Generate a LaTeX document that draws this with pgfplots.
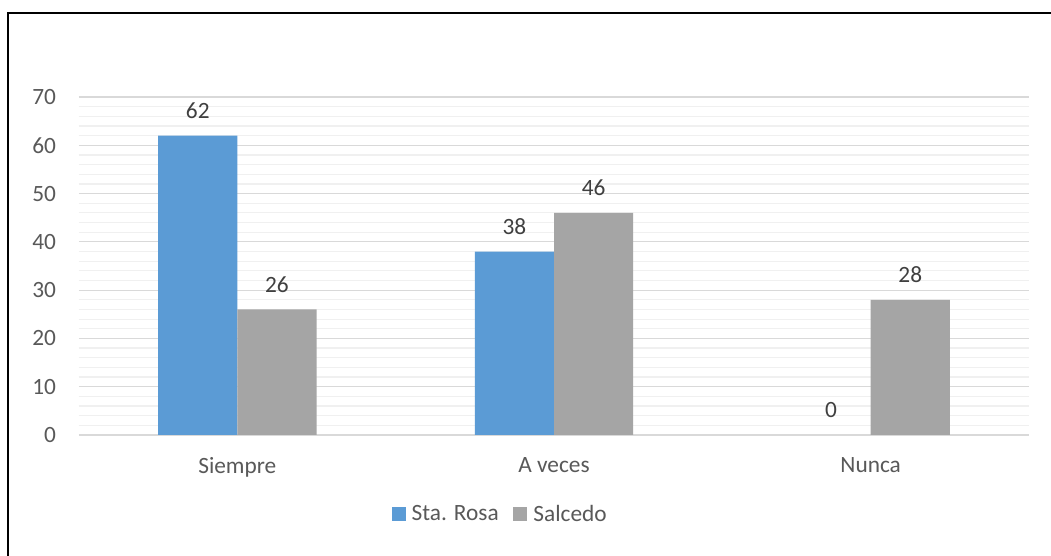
\documentclass[border=0pt]{standalone}
\usepackage{pgfplots}
\pgfplotsset{compat=1.18}
\usepackage{fontspec}
\setmainfont{Carlito}
\definecolor{cblue}{HTML}{5B9BD5}
\definecolor{cgray}{HTML}{A5A5A5}
\definecolor{ctick}{HTML}{595959}
\definecolor{clab}{HTML}{404040}
\definecolor{gmaj}{HTML}{D9D9D9}
\definecolor{gmin}{HTML}{F0F0F0}
\begin{document}
\begin{tikzpicture}
\useasboundingbox (0,0) rectangle (788.25pt,417pt);
\fill[white] (0,0) rectangle (788.25pt,417pt);
\draw[line width=1.4pt, line cap=rect] (6pt,0) -- (6pt,407.25pt) -- (788.25pt,407.25pt);
\begin{axis}[
  at={(59.25pt,90.75pt)}, anchor=south west,
  scale only axis, width=712.5pt, height=253.5pt,
  xmin=-0.5, xmax=2.5, ymin=0, ymax=70,
  ybar,
  xtick={0,1,2}, xticklabels={Siempre, A veces, Nunca},
  ytick={0,10,...,70},
  minor y tick num=4,
  ymajorgrids, yminorgrids,
  major grid style={draw=gmaj, line width=0.9pt},
  minor grid style={draw=gmin, line width=0.9pt},
  axis line style={draw=none},
  major tick length=0pt, minor tick length=0pt,
  tick label style={font=\fontsize{17.5pt}{21pt}\selectfont, text=ctick},
  /pgf/number format/assume math mode=true,
  yticklabel style={anchor=east, inner sep=0pt, xshift=-17pt},
  xticklabel style={anchor=north, inner sep=0pt, yshift=-16.5pt},
  nodes near coords,
  every node near coord/.append style={anchor=south, inner sep=0pt, yshift=12.75pt, font=\fontsize{17.5pt}{21pt}\selectfont, text=clab},
  legend columns=2,
  legend style={at={(0.4437,-0.235)}, anchor=center, draw=none, fill=none,
    font=\fontsize{17.5pt}{21pt}\selectfont, text=ctick,
    nodes={inner sep=2pt},
    /tikz/every even column/.append style={column sep=9pt}},
  legend image code/.code={\fill[#1] (0pt,-5.25pt) rectangle (10.5pt,5.25pt); \path (13pt,0pt);},
]
\addplot[fill=cblue, draw=none, bar width=0.25, bar shift=-0.125] coordinates {(0,62) (1,38)};
\addplot[fill=cgray, draw=none, bar width=0.25, bar shift=0.125] coordinates {(0,26) (1,46) (2,28)};
\addplot[fill=none, draw=none, bar width=0.25, bar shift=-0.125, forget plot] coordinates {(2,0)};
\legend{Sta. Rosa, Salcedo}
\end{axis}
\end{tikzpicture}
\end{document}
